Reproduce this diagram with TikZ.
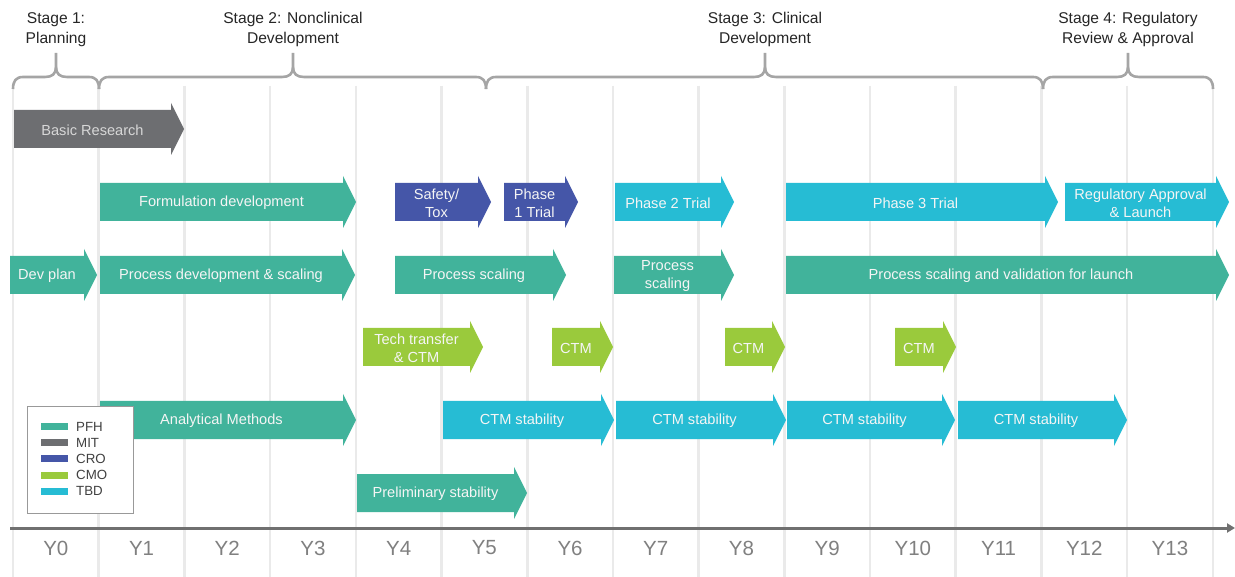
\documentclass[tikz,border=0pt]{standalone}
\usepackage{fontspec}
\setmainfont{Liberation Sans}
\usetikzlibrary{positioning, arrows.meta}

\definecolor{pfh}{RGB}{65,179,155}
\definecolor{mit}{RGB}{109,110,113}
\definecolor{cro}{RGB}{69,86,168}
\definecolor{cmo}{RGB}{154,202,60}
\definecolor{tbd}{RGB}{38,188,212}
\definecolor{gridgray}{RGB}{234,234,234}
\definecolor{bracegray}{RGB}{165,165,165}
\definecolor{axisgray}{RGB}{112,112,112}
\definecolor{yeargray}{RGB}{128,128,128}
\definecolor{mitlight}{RGB}{215,215,215}

\tikzset{
  bartext/.style={text=white!96!black, align=center, inner sep=0pt, yshift=-1.2pt,
    font=\fontsize{14.6}{17.5}\selectfont},
  stagelabel/.style={text=black!85, align=center, inner sep=0pt,
    font=\fontsize{15.6}{20}\selectfont},
  yearlabel/.style={text=yeargray, inner sep=0pt, font=\fontsize{20.5}{24}\selectfont},
  legendlabel/.style={text=black!75, anchor=west, inner sep=0pt,
    font=\fontsize{13.3}{15}\selectfont},
  gridline/.style={gridgray, line width=2.6pt},
  bracestyle/.style={bracegray, line width=2.6pt},
  axisline/.style={axisgray, line width=3pt, -{Triangle[length=8pt,width=9pt]}}
}

% name, colour, left, tip, mid y, text
\newcommand{\taskbar}[6]{%
  \fill[#2] (#3,#5-19) -- (#4-13,#5-19) -- (#4-13,#5-26) -- (#4,#5)
    -- (#4-13,#5+26) -- (#4-13,#5+19) -- (#3,#5+19) -- cycle;
  \node[bartext] (#1) at ({(#3+#4-13)/2},#5) {#6};
}

% left end, tip, right end
\newcommand{\stagebrace}[3]{%
  \draw[bracestyle] (#1,89) .. controls (#1,81) and (#1+3,77) .. (#1+10,77)
    -- (#2-11,77) .. controls (#2-4,77) and (#2,74) .. (#2,67) -- (#2,53);
  \draw[bracestyle] (#2,67) .. controls (#2,74) and (#2+4,77) .. (#2+11,77)
    -- (#3-10,77) .. controls (#3-3,77) and (#3,81) .. (#3,89);
}

\begin{document}
\begin{tikzpicture}[x=1pt, y=-1pt]
  \fill[white] (0,0) rectangle (1235,577);
  \useasboundingbox (0,0) rectangle (1235,577);

  % year columns
  \foreach \i in {0,...,14}
    \draw[gridline] (13+85.7*\i,86) -- (13+85.7*\i,577);
  \foreach \i in {0,...,13}
    \node[yearlabel] (y\i) at (55.85+85.7*\i,548) {Y\i};
  \draw[axisline] (10,528) -- (1235,528);

  % stages
  \stagebrace{13}{56}{99}
  \stagebrace{99}{293}{486}
  \stagebrace{486}{765}{1043}
  \stagebrace{1043}{1128}{1213}
  \node[stagelabel] (stage1) at (56,29.5) {Stage 1:\\Planning};
  \node[stagelabel] (stage2) at (293,29.5) {Stage 2: Nonclinical\\Development};
  \node[stagelabel] (stage3) at (765,29.5) {Stage 3: Clinical\\Development};
  \node[stagelabel] (stage4) at (1128,29.5) {Stage 4: Regulatory\\Review \& Approval};

  % tasks
  \taskbar{basic}{mit}{14}{184}{129}{\color{mitlight}Basic Research}

  \taskbar{form}{pfh}{100}{356}{202}{Formulation development}
  \taskbar{safety}{cro}{395}{491}{202}{Safety/\\Tox}
  \taskbar{ph1}{cro}{504}{578}{202}{Phase\\1 Trial}
  \taskbar{ph2}{tbd}{615}{734}{202}{Phase 2 Trial}
  \taskbar{ph3}{tbd}{786}{1058}{202}{Phase 3 Trial}
  \taskbar{reg}{tbd}{1065}{1229}{202}{Regulatory Approval\\\& Launch}

  \taskbar{devplan}{pfh}{10}{97}{275}{Dev plan}
  \taskbar{procdev}{pfh}{100}{355}{275}{Process development \& scaling}
  \taskbar{procsc}{pfh}{395}{566}{275}{Process scaling}
  \taskbar{procsc2}{pfh}{614}{734}{275}{Process\\scaling}
  \taskbar{procval}{pfh}{786}{1229}{275}{Process scaling and validation for launch}

  \taskbar{tech}{cmo}{363}{483}{347}{Tech transfer\\\& CTM}
  \taskbar{ctm1}{cmo}{552}{613}{347}{CTM}
  \taskbar{ctm2}{cmo}{725}{785}{347}{CTM}
  \taskbar{ctm3}{cmo}{895}{956}{347}{CTM}

  \taskbar{anal}{pfh}{100}{356}{420}{Analytical Methods}
  \taskbar{stab1}{tbd}{443}{614}{420}{CTM stability}
  \taskbar{stab2}{tbd}{616}{786}{420}{CTM stability}
  \taskbar{stab3}{tbd}{787}{955}{420}{CTM stability}
  \taskbar{stab4}{tbd}{958}{1127}{420}{CTM stability}

  \taskbar{prelim}{pfh}{357}{527}{493}{Preliminary stability}

  % legend
  \draw[black!40, fill=white, line width=0.9pt] (27,406) rectangle (133,513);
  \foreach \c/\t [count=\k] in {pfh/PFH, mit/MIT, cro/CRO, cmo/CMO, tbd/TBD} {
    \fill[\c] (41,426.5+16.2*\k-16.2-3.5) rectangle (68,426.5+16.2*\k-16.2+3.5);
    \node[legendlabel] (lg\k) at (76,426.5+16.2*\k-16.2) {\t};
  }
\end{tikzpicture}
\end{document}
